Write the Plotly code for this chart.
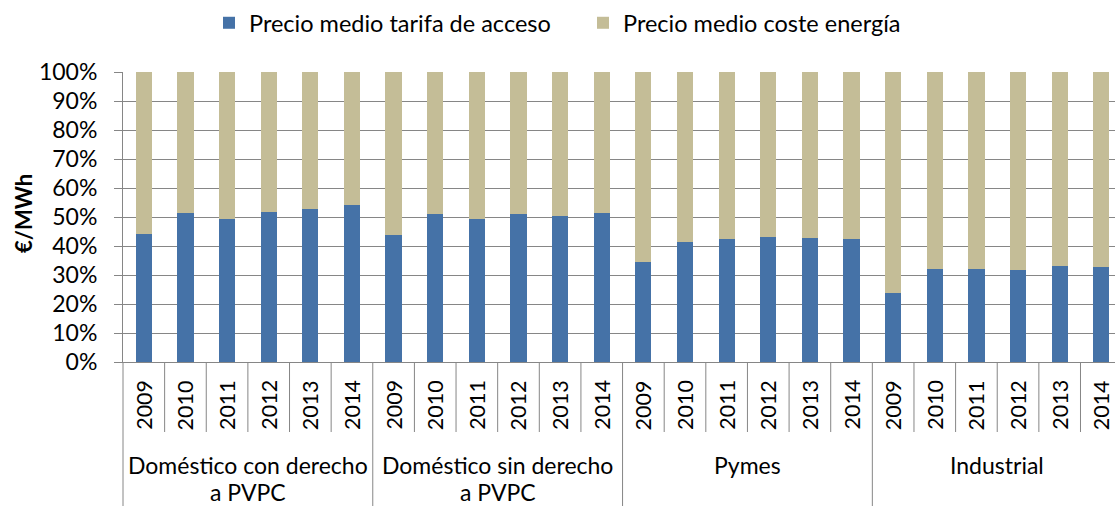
import plotly.graph_objects as go

# ---------------- data ----------------
groups = ["Doméstico con derecho<br>a PVPC", "Doméstico sin derecho<br>a PVPC", "Pymes", "Industrial"]
years = ["2009", "2010", "2011", "2012", "2013", "2014"]
series_names = ["Precio medio tarifa de acceso", "Precio medio coste energía"]
acceso = [44.0, 51.4, 49.2, 51.7, 52.8, 54.2,
          43.7, 51.0, 49.4, 50.9, 50.3, 51.4,
          34.6, 41.4, 42.3, 43.0, 42.6, 42.3,
          23.7, 32.0, 32.1, 31.8, 33.2, 32.9]
energia = [56.0, 48.6, 50.8, 48.3, 47.2, 45.8,
           56.3, 49.0, 50.6, 49.1, 49.7, 48.6,
           65.4, 58.6, 57.7, 57.0, 57.4, 57.7,
           76.3, 68.0, 67.9, 68.2, 66.8, 67.1]
y_ticks = [0, 10, 20, 30, 40, 50, 60, 70, 80, 90, 100]
y_tick_text = ["0%", "10%", "20%", "30%", "40%", "50%", "60%", "70%", "80%", "90%", "100%"]
y_title = "€/MWh"

# ---------------- styling ----------------
W, H = 1115, 506
ML, MR, MT, MB = 123, 0, 72, 144
FONT = "Lato"
FS_LEG = 23.5
FS_GRP = 23
FS_YEAR = 21.5
FS_Y = 23
BLUE = "#4572A7"
TAN = "#C4BD97"
GRID = "#868686"

n_years = len(years)
n_cat = len(groups) * n_years
cat_px = 41.63
plot_w = W - ML - MR
plot_h = H - MT - MB
x0 = -0.5
x1 = x0 + plot_w / cat_px
xs = list(range(n_cat))
year_labels = [years[i % n_years] for i in range(n_cat)]


def px_to_paper_y(py):
    return (H - MB - py) / plot_h


def px_to_paper_x(px):
    return (px - ML) / plot_w


def cat_to_paper_x(c):
    return (c - x0) / (x1 - x0)


fig = go.Figure()
fig.add_trace(go.Bar(x=xs, y=acceso, name=series_names[0], marker_color=BLUE,
                     marker_line_width=0, width=0.39))
fig.add_trace(go.Bar(x=xs, y=energia, name=series_names[1], marker_color=TAN,
                     marker_line_width=0, width=0.39))

shapes = []
annotations = []
# year labels
for i, lab in enumerate(year_labels):
    annotations.append(dict(x=i, y=px_to_paper_y(405), xref="x", yref="paper",
                            text=lab, textangle=-90, showarrow=False,
                            xanchor="center", yanchor="middle",
                            font=dict(family=FONT, size=FS_YEAR, color="#000")))
# separators
for b in range(n_cat + 1):
    xb = b - 0.5
    if xb > x1:
        continue
    is_group = (b % n_years == 0)
    y_end = px_to_paper_y(H) if is_group else px_to_paper_y(432)
    px = cat_to_paper_x(xb)
    shapes.append(dict(type="line", xref="paper", yref="paper",
                       x0=px, x1=px, y0=0, y1=y_end,
                       line=dict(color=GRID, width=1)))
# group labels
for g, name in enumerate(groups):
    center = g * n_years + (n_years - 1) / 2
    for k, line in enumerate(name.split("<br>")):
        annotations.append(dict(x=center, y=px_to_paper_y(465 + 27 * k), xref="x", yref="paper",
                                text=line, showarrow=False, xanchor="center", yanchor="middle",
                                font=dict(family=FONT, size=FS_GRP, color="#000")))
# y title
annotations.append(dict(x=px_to_paper_x(23), y=px_to_paper_y(214), xref="paper", yref="paper",
                        text="<b>" + y_title + "</b>", textangle=-90, showarrow=False,
                        xanchor="center", yanchor="middle",
                        font=dict(family=FONT, size=22, color="#000")))

fig.update_layout(
    width=W, height=H, autosize=False,
    margin=dict(l=ML, r=MR, t=MT, b=MB, pad=0),
    paper_bgcolor="white", plot_bgcolor="white",
    barmode="stack", bargap=0,
    font=dict(family=FONT, size=FS_LEG, color="#000"),
    showlegend=True,
    legend=dict(orientation="h", x=px_to_paper_x(209), xanchor="left",
                y=px_to_paper_y(1), yanchor="top", entrywidth=329, entrywidthmode="pixels",
                font=dict(family=FONT, size=FS_LEG, color="#000"),
                bgcolor="rgba(0,0,0,0)", traceorder="normal", itemclick=False),
    xaxis=dict(range=[x0, x1], showticklabels=False, showgrid=False, zeroline=False,
               showline=True, linecolor=GRID, linewidth=1, ticks=""),
    yaxis=dict(range=[0, 100], tickvals=y_ticks, ticktext=y_tick_text, showgrid=True,
               gridcolor=GRID, gridwidth=1, zeroline=False, showline=True,
               linecolor=GRID, linewidth=1, ticks="outside", ticklen=8, tickcolor=GRID,
               ticklabelstandoff=12, tickfont=dict(family=FONT, size=FS_Y, color="#000")),
    shapes=shapes,
    annotations=annotations,
)

fig.write_html("out.html", config={"displayModeBar": False},
               post_script="document.body.style.margin='0';document.body.style.overflow='hidden';")
